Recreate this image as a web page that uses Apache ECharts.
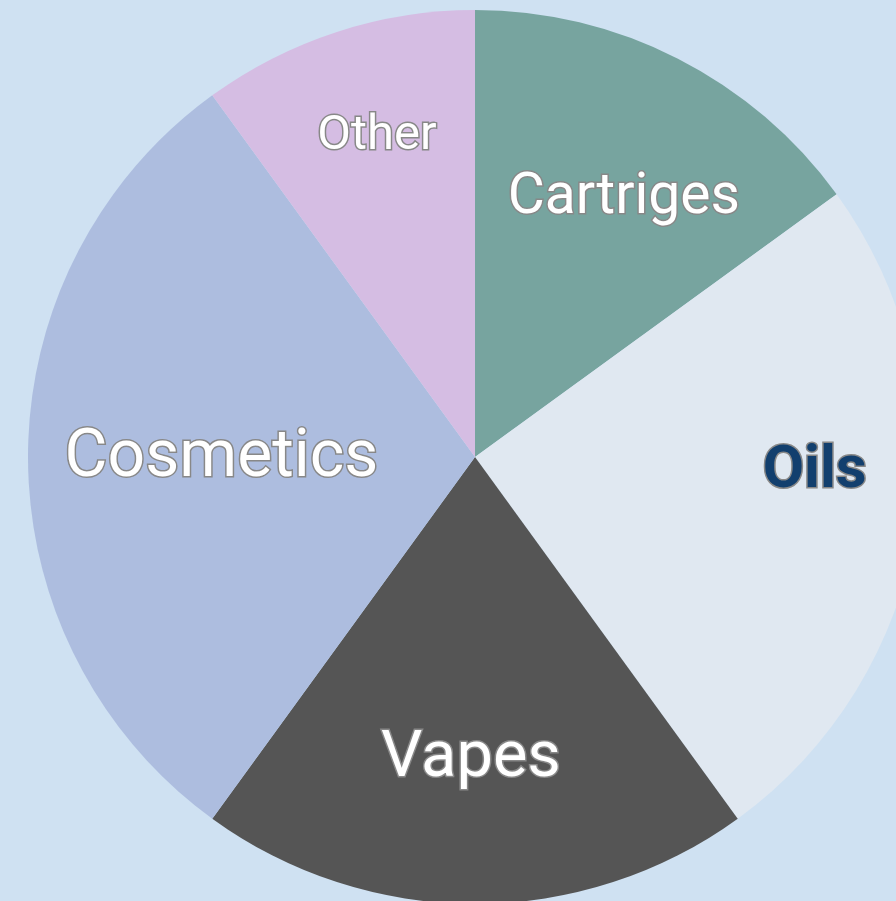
<!DOCTYPE html>
<html>
<head>
<meta charset="utf-8">
<script src="https://cdn.jsdelivr.net/npm/echarts@6/dist/echarts.min.js"></script>
<style>
html,body{margin:0;padding:0;background:#cfe1f2;}
#chart{width:896px;height:901px;}
</style>
</head>
<body>
<div id="chart"></div>
<script>
const categories = ['Cartriges', 'Oils', 'Vapes', 'Cosmetics', 'Other'];
const values = [15, 25, 20, 30, 10];

const colors = ['#77a49f', '#e0e8f1', '#555555', '#adbddf', '#d5bde3'];
const labelSizes = [57, 60, 65, 66, 49];
const labelColors = ['#ffffff', '#123f6e', '#ffffff', '#ffffff', '#ffffff'];
const labelWeights = ['normal', 'bold', 'normal', 'normal', 'normal'];
const labelShift = [[46, -56], [116, -20], [-4, 76], [-27, 2], [-28, -105]];

const chart = echarts.init(document.getElementById('chart'));
chart.setOption({
  backgroundColor: '#cfe1f2',
  animation: false,
  series: [{
    type: 'pie',
    center: [475, 457],
    radius: 447,
    startAngle: 90,
    clockwise: true,
    silent: true,
    label: {
      show: true,
      position: 'inside',
      fontFamily: 'Roboto',
      textBorderColor: '#888888',
      textBorderWidth: 3
    },
    labelLine: { show: false },
    labelLayout: function (p) {
      return { dx: labelShift[p.dataIndex][0], dy: labelShift[p.dataIndex][1] };
    },
    itemStyle: { borderWidth: 0 },
    data: categories.map((c, i) => ({
      name: c,
      value: values[i],
      itemStyle: { color: colors[i] },
      label: {
        formatter: '{b}',
        fontSize: labelSizes[i],
        color: labelColors[i],
        fontWeight: labelWeights[i]
      }
    }))
  }]
});
</script>
</body>
</html>
